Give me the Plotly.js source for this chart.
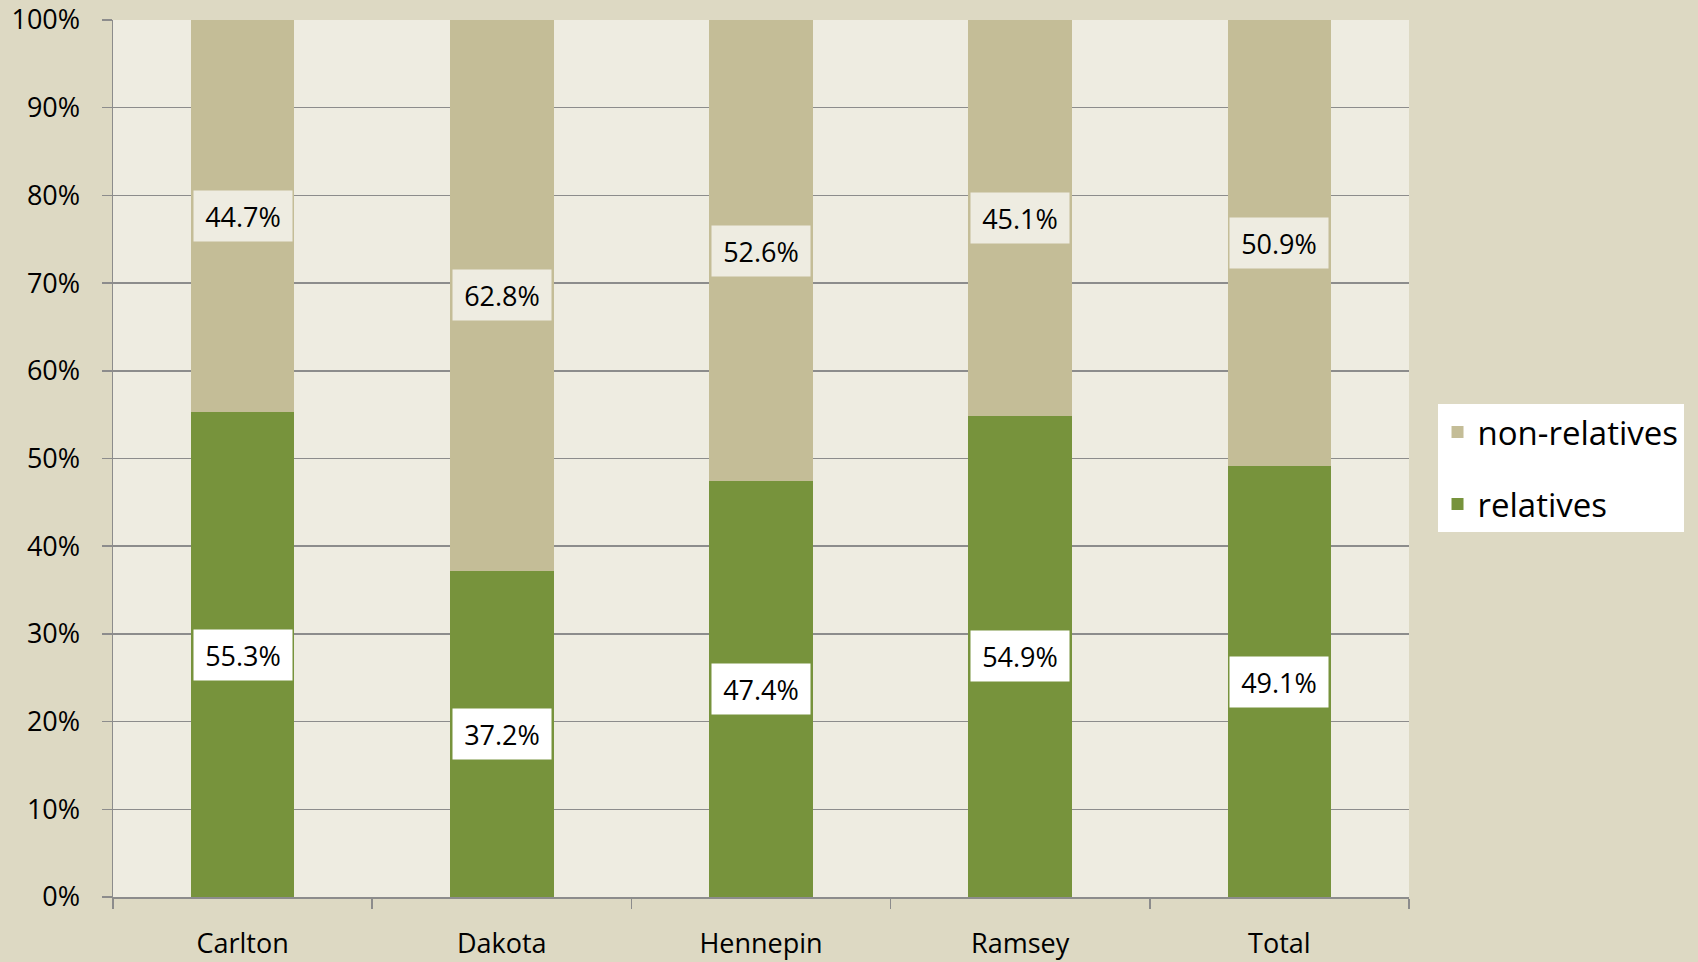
<!DOCTYPE html>
<html>
<head>
<meta charset="utf-8">
<script src="https://cdn.plot.ly/plotly-3.0.1.min.js"></script>
<style>
html,body{margin:0;padding:0;background:#DDD9C3;}
#chart{width:1698px;height:962px;}
</style>
</head>
<body>
<div id="chart"></div>
<script>
var categories = ["Carlton", "Dakota", "Hennepin", "Ramsey", "Total"];
var relatives = [55.3, 37.2, 47.4, 54.9, 49.1];
var nonRelatives = [44.7, 62.8, 52.6, 45.1, 50.9];
var yTickVals = [0, 10, 20, 30, 40, 50, 60, 70, 80, 90, 100];
var yTickText = yTickVals.map(function (v) { return v + "%"; });

var colRel = "#77933C";
var colNon = "#C4BD97";
var plotBg = "#EEECE1";
var paperBg = "#DDD9C3";
var gridCol = "#8C8C8C";
var fontFam = "'Open Sans', 'Noto Sans', sans-serif";

var traces = [
  {type: "bar", name: "relatives", x: categories, y: relatives,
   marker: {color: colRel}, legendgroup: "a", legendrank: 2, hoverinfo: "x+y"},
  {type: "bar", name: "non-relatives", x: categories, y: nonRelatives,
   marker: {color: colNon}, legendgroup: "b", legendrank: 1, hoverinfo: "x+y"}
];

var annotations = [];
categories.forEach(function (c, i) {
  annotations.push({
    x: c, y: relatives[i] / 2, xref: "x", yref: "y",
    text: relatives[i].toFixed(1) + "%", showarrow: false,
    bgcolor: "#FFFFFF", width: 96, height: 48,
    font: {family: fontFam, size: 27, color: "#000"}
  });
  annotations.push({
    x: c, y: relatives[i] + nonRelatives[i] / 2, xref: "x", yref: "y",
    text: nonRelatives[i].toFixed(1) + "%", showarrow: false,
    bgcolor: plotBg, width: 96, height: 48,
    font: {family: fontFam, size: 27, color: "#000"}
  });
});

var layout = {
  width: 1698, height: 962,
  paper_bgcolor: paperBg, plot_bgcolor: plotBg,
  margin: {l: 113, r: 289, t: 20, b: 65, pad: 0},
  barmode: "stack", bargap: 0.6,
  font: {family: fontFam, size: 27, color: "#000"},
  xaxis: {
    type: "category", tickson: "boundaries", ticks: "outside", ticklen: 10,
    tickcolor: gridCol, tickwidth: 1.5, showgrid: false,
    showline: true, linecolor: gridCol, linewidth: 1.5,
    ticklabelstandoff: 22,
    tickfont: {family: fontFam, size: 27, color: "#000"}
  },
  yaxis: {
    range: [0, 100], tickmode: "array", tickvals: yTickVals, ticktext: yTickText,
    ticks: "outside", ticklen: 10, tickcolor: gridCol, tickwidth: 1.5,
    showgrid: true, gridcolor: gridCol, gridwidth: 1.5,
    showline: true, linecolor: gridCol, linewidth: 1.5,
    zeroline: false, ticklabelstandoff: 16,
    tickfont: {family: fontFam, size: 27, color: "#000"}
  },
  legend: {
    x: 1.022, y: 0.562, xanchor: "left", yanchor: "top",
    bgcolor: "#FFFFFF", borderwidth: 0,
    traceorder: "grouped", tracegroupgap: 26,
    font: {family: fontFam, size: 33, color: "#000"},
    itemwidth: 30
  },
  annotations: annotations,
  showlegend: true
};

Plotly.newPlot("chart", traces, layout, {displayModeBar: false, staticPlot: true});
</script>
</body>
</html>
